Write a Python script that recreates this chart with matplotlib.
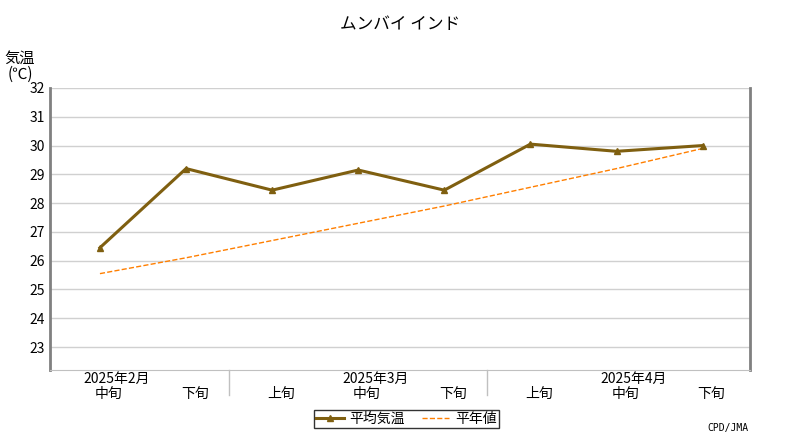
import matplotlib
matplotlib.use("Agg")
import matplotlib.pyplot as plt

plt.rcParams["font.family"] = ["Noto Sans CJK JP", "DejaVu Sans"]

periods = ["中旬", "下旬", "上旬", "中旬", "下旬", "上旬", "中旬", "下旬"]
months = ["2025年2月", "2025年3月", "2025年4月"]
month_pos = [0, 3, 6]          # index of period under which month label sits
month_breaks = [1.5, 4.5]      # separators between months
avg_temp = [26.45, 29.2, 28.45, 29.15, 28.45, 30.05, 29.8, 30.0]
normal_temp = [25.55, 26.1, 26.7, 27.3, 27.9, 28.55, 29.2, 29.9]
yticks = [23, 24, 25, 26, 27, 28, 29, 30, 31, 32]

fig = plt.figure(figsize=(8, 4.4), dpi=100)
ax = fig.add_axes([0.0625, 0.159, 0.875, 0.641])
x = list(range(len(periods)))

l1, = ax.plot(x, avg_temp, color="#7f5f10", lw=2.2, marker="^", ms=5, label="平均気温", zorder=3)
l2, = ax.plot(x, normal_temp, ls="--", color="#ff7f00", lw=1, label="平年値", zorder=2)

ax.set_xlim(-0.58, 7.55)
ax.set_ylim(22.2, 32)
ax.set_yticks(yticks)
ax.grid(axis="y", color="#d0d0d0", lw=1)
ax.set_xticks([])
for s in ["left", "right"]:
    ax.spines[s].set_color("#808080")
    ax.spines[s].set_linewidth(2)
ax.spines["top"].set_visible(False)
ax.spines["bottom"].set_color("#c0c0c0")
ax.tick_params(axis="y", length=0, labelsize=10)

for i, p in enumerate(periods):
    ax.text(i + 0.1, -0.06, p, transform=ax.get_xaxis_transform(), ha="center", va="top", fontsize=10)
for m, i in zip(months, month_pos):
    ax.text(i + 0.2, -0.005, m, transform=ax.get_xaxis_transform(), ha="center", va="top", fontsize=10)
for b in month_breaks:
    ax.plot([b, b], [0, -0.09], transform=ax.get_xaxis_transform(), color="#c0c0c0", lw=1, clip_on=False)

fig.text(0.5, 0.935, "ムンバイ インド", ha="center", fontsize=12)
fig.text(0.025, 0.82, "気温\n(℃)", ha="center", fontsize=11, linespacing=0.95)
fig.text(0.935, 0.02, "CPD/JMA", ha="right", fontsize=7, family="DejaVu Sans Mono")

fig.legend(handles=[l1, l2], loc="center", bbox_to_anchor=(0.508, 0.048), ncol=2, frameon=True,
           fancybox=False, edgecolor="black", fontsize=10, handlelength=2, borderpad=0.15,
           columnspacing=1.2, handletextpad=0.4)

fig.savefig("out.png", dpi=100)
